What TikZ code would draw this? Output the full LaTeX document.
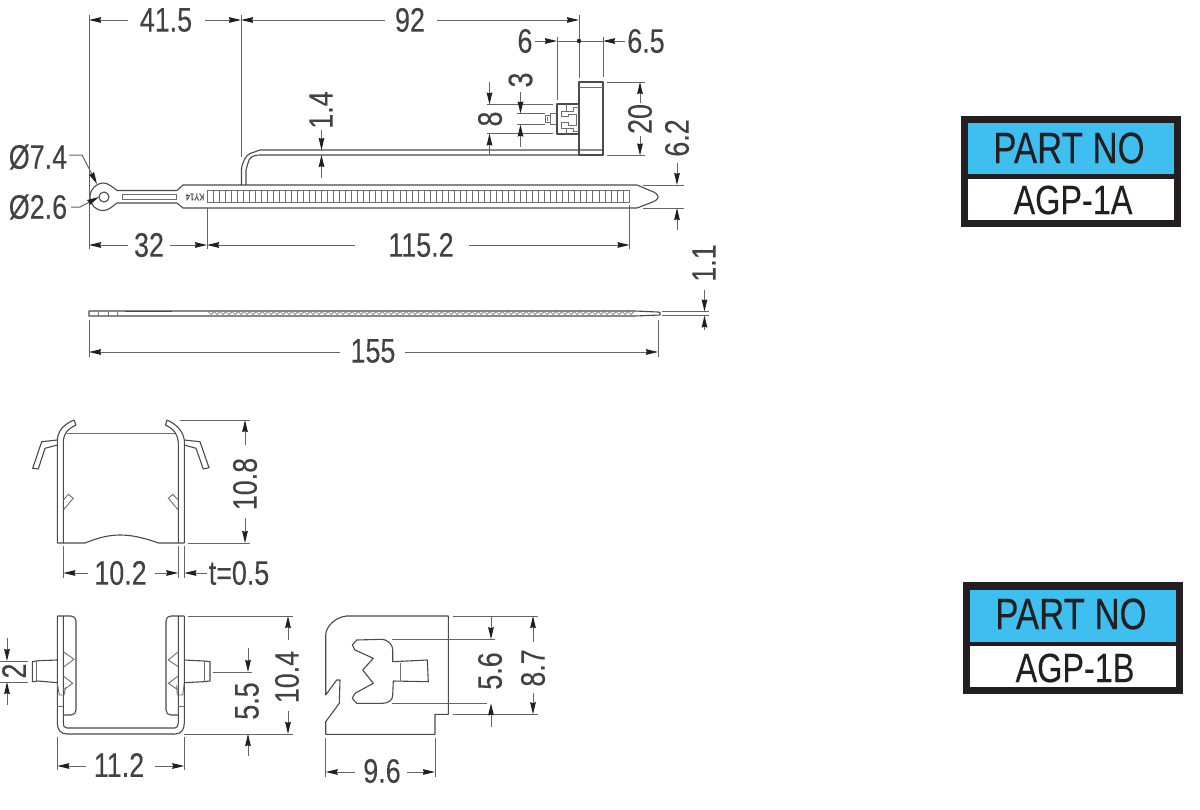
\documentclass[tikz,border=0pt]{standalone}
\usepackage{fontspec}
\setmainfont[FakeStretch=0.79,FakeBold=0.15]{Liberation Sans}
\usetikzlibrary{arrows.meta}
\definecolor{ink}{HTML}{4A4A4A}
\definecolor{partblue}{HTML}{3FBFF0}
\definecolor{partedge}{HTML}{231F20}
\tikzset{
  part/.style={draw=ink,line width=0.55pt,line join=round},
  thin part/.style={draw=ink!80,line width=0.45pt},
  dimline/.style={draw=ink!85,line width=0.5pt},
  arrowline/.style={dimline,-{Stealth[length=6pt,width=2.8pt,inset=0.4pt,color=partedge]}},
  dimtext/.style={inner sep=0pt,font=\fontsize{17}{18}\selectfont,text=partedge!85},
  vdimtext/.style={dimtext,rotate=90},
  parttitle/.style={inner sep=0pt,font=\fontsize{22}{23}\selectfont,text=partedge},
  partcode/.style={inner sep=0pt,font=\fontsize{20.5}{21}\selectfont,text=partedge},
}
\begin{document}
\begin{tikzpicture}[x=0.5pt,y=-0.5pt]
\useasboundingbox (0,0) rectangle (1200,809);
\fill[white] (0,0) rectangle (1200,809);

%%% ---------- tie, plan view
% bent strip
\draw[part] (241.5,185) -- (241.5,168) .. controls (243,162) and (245,156) .. (250,153.5) -- (260,150) -- (603,150) -- (603,155) -- (260,155) .. controls (252,155) and (249,158) .. (248,163) -- (246,170) -- (246,185);
% tab
\draw[part] (579,82) rectangle (603,155);
\draw[thin part] (579,87) -- (603,87);
% connector
\draw[part] (557,104) rectangle (579,134);
\draw[thin part] (579,107.5) -- (573,107.5) -- (573,111) -- (561,111) -- (561,116) -- (568,116) -- (568,114) -- (576,114) -- (576,125) -- (568,125) -- (568,122.5) -- (561,122.5) -- (561,128) -- (573,128) -- (573,131) -- (579,131);
\draw[thin part] (566,104) -- (566,111) (566,128) -- (566,134);
\draw[thin part] (557,113) -- (550,113) -- (550,115.5) -- (545,115.5) -- (545,122) -- (550,122) -- (550,124) -- (557,124);
\draw[thin part] (550,115.5) -- (550,122) (547.5,117) -- (547.5,120.5);
% tie outline
\draw[part] (117,190.5) -- (177,190.5) -- (183,185) -- (637,185) -- (650,190.5) .. controls (656,192.5) and (658,195) .. (658,197) .. controls (658,199) and (656,201) .. (650,203) -- (637,208) -- (183,208) -- (177,203) -- (117,203) .. controls (113,206) and (109,210) .. (104,210.5) .. controls (96,211) and (90,205) .. (90,197) .. controls (90,189) and (96,183) .. (104,183) .. controls (109,183.5) and (113,187.5) .. (117,190.5);
\draw[part] (104,197) circle[radius=5];
\draw[thin part] (122,194) rectangle (176.5,199.5);
% teeth
\draw[thin part] (207,190.5) rectangle (629.5,202.5);
\foreach \i in {1,...,70} \draw[thin part] ({207+6.03*\i},190.5) -- ({207+6.03*\i},202.5);
\node[inner sep=0pt,rotate=180,font=\fontsize{4.8}{5}\selectfont,text=ink] (ky) at (195,197) {KY14};

%%% ---------- tie, side view
\draw[part] (89,311) -- (635,311) -- (658,312) -- (660,312.5) -- (660,315) -- (635,316) -- (89,316) -- cycle;
\foreach \x in {98,108,117} \draw[thin part] (\x,311) -- (\x,316);
\draw[draw=ink,line width=0.8pt] (125,311.3) -- (172,311.3);
\foreach \i in {0,...,70} \draw[ink!80,line width=0.35pt] ({208+6*\i},311.5) -- ({211+6*\i},314.5) -- ({214+6*\i},311.5);

%%% ---------- dimensions, plan view
\draw[dimline] (89,15) -- (89,249);
\draw[dimline] (241,15) -- (241,157);
\draw[dimline] (579,15) -- (579,78);
\draw[arrowline] (128,20) -- (89,20);
\draw[arrowline] (205,20) -- (241,20);
\node[dimtext] (d415) at (166,20) {41.5};
\draw[arrowline] (385,20) -- (241,20);
\draw[arrowline] (437,20) -- (579,20);
\node[dimtext] (d92) at (410,20) {92};
% 6 / 6.5
\draw[dimline] (557,37) -- (557,100);
\draw[dimline] (603,37) -- (603,77);
\draw[dimline] (557,41) -- (603,41);
\fill[partedge] (579,41) circle[radius=2.2];
\draw[arrowline] (535,41) -- (557,41);
\draw[arrowline] (625,41) -- (603,41);
\node[dimtext] (d6) at (525,41) {6};
\node[dimtext] (d65) at (646,41) {6.5};
% 20
\draw[dimline] (607,82) -- (645,82);
\draw[dimline] (607,155.5) -- (645,155.5);
\draw[arrowline] (640,103) -- (640,82);
\draw[arrowline] (640,136) -- (640,155.5);
\node[vdimtext] (d20) at (640,119) {20};
% 6.2
\draw[dimline] (643,185) -- (684,185);
\draw[dimline] (643,208) -- (684,208);
\draw[arrowline] (677,163) -- (677,185);
\draw[arrowline] (677,230) -- (677,208);
\node[vdimtext] (d62) at (677,138) {6.2};
% 8
\draw[dimline] (487,104.5) -- (553,104.5);
\draw[dimline] (487,133.5) -- (553,133.5);
\draw[arrowline] (489.5,82) -- (489.5,104.5);
\draw[arrowline] (489.5,155) -- (489.5,133.5);
\node[vdimtext] (d8) at (490,119) {8};
% 3
\draw[dimline] (517,113.5) -- (545,113.5);
\draw[dimline] (517,124.5) -- (545,124.5);
\draw[arrowline] (520.5,92) -- (520.5,113.5);
\draw[arrowline] (520.5,147) -- (520.5,124.5);
\node[vdimtext] (d3) at (520.5,80) {3};
% 1.4
\draw[arrowline] (321.5,130) -- (321.5,150);
\draw[arrowline] (321.5,178) -- (321.5,155);
\node[vdimtext] (d14) at (321,110) {1.4};
% diameters
\node[dimtext] (d74) at (38,157) {Ø7.4};
\node[dimtext] (d26) at (38,207) {Ø2.6};
\draw[arrowline] (69,155) -- (82,155) -- (97,184);
\draw[arrowline] (71,207) -- (80,207) -- (99,197);
% 32 / 115.2
\draw[dimline] (207,208) -- (207,249);
\draw[dimline] (629.5,205) -- (629.5,249);
\draw[arrowline] (128,245) -- (89,245);
\draw[arrowline] (170,245) -- (207,245);
\node[dimtext] (d32) at (149,245) {32};
\draw[arrowline] (355,245) -- (207,245);
\draw[arrowline] (469,245) -- (629.5,245);
\node[dimtext] (d1152) at (421,245) {115.2};
% 155
\draw[dimline] (89,320) -- (89,357);
\draw[dimline] (658,320) -- (658,357);
\draw[arrowline] (340,352) -- (89,352);
\draw[arrowline] (405,352) -- (658,352);
\node[dimtext] (d155) at (373,351) {155};
% 1.1
\draw[dimline] (662,311.5) -- (709,311.5);
\draw[dimline] (662,315.5) -- (709,315.5);
\draw[arrowline] (704.5,290) -- (704.5,311.5);
\draw[arrowline] (704.5,330) -- (704.5,315.5);
\node[vdimtext] (d11) at (704,263) {1.1};

%%% ---------- clip, front view
\draw[part] (57.3,543) -- (57.3,440) .. controls (58,432) and (62,425) .. (74,420) -- (76,425) .. controls (68,429) and (64,432) .. (63.3,442) -- (63.3,543);
\draw[part] (184.3,543) -- (184.3,440) .. controls (183,432) and (178,425) .. (167,420) -- (165.5,425) .. controls (173,429) and (177,432) .. (178.3,442) -- (178.3,543);
\draw[thin part] (66.7,433) -- (175,433);
\draw[part] (57.3,440) -- (41.7,441.7) -- (32.7,468.3) -- (38.3,469) -- (45,448.3) -- (57.3,445);
\draw[part] (184.3,440) -- (200,441.7) -- (209,467.7) -- (203.3,469) -- (196,448.3) -- (184.3,445);
\draw[thin part] (63.3,500) -- (68.3,494.3) -- (73.3,498.3) -- (63.3,510);
\draw[thin part] (178.3,500) -- (172.7,494.3) -- (168.3,498.3) -- (178.3,510);
\draw[part] (57.3,543) -- (85,543) .. controls (100,537) and (110,535) .. (120,535) .. controls (130,535) and (142,537) .. (158.3,543) -- (184.3,543);
% dims
\draw[dimline] (180,420) -- (250,420);
\draw[dimline] (188,543) -- (250,543);
\draw[arrowline] (245,445) -- (245,420);
\draw[arrowline] (245,518) -- (245,543);
\node[vdimtext] (d108) at (245,484) {10.8};
\draw[dimline] (63.3,546) -- (63.3,578);
\draw[dimline] (178.3,546) -- (178.3,578);
\draw[dimline] (184.3,546) -- (184.3,578);
\draw[arrowline] (88,573) -- (63.3,573);
\draw[arrowline] (155,573) -- (178.3,573);
\draw[arrowline] (207,573) -- (184.3,573);
\node[dimtext] (d102) at (120.5,573) {10.2};
\node[dimtext] (dt) at (239,573) {t=0.5};

%%% ---------- clip, top view
\draw[part] (57.3,616) -- (57.3,723) .. controls (57.3,730) and (61,734) .. (67,734) -- (175,734) .. controls (181,734) and (184.3,730) .. (184.3,723) -- (184.3,616);
\draw[part] (63.3,616) -- (63.3,723) .. controls (63.3,726) and (64,728) .. (67,728) -- (175,728) .. controls (177,728) and (178.3,726) .. (178.3,723) -- (178.3,616);
\draw[part] (57.3,616) -- (71,616) .. controls (74,616) and (76,618) .. (76,621) -- (76,710) .. controls (76,713) and (74,715) .. (71,715) -- (63.3,715);
\draw[part] (184.3,616) -- (171,616) .. controls (168,616) and (166,618) .. (166,621) -- (166,710) .. controls (166,713) and (168,715) .. (171,715) -- (178.3,715);
\draw[thin part] (57.3,706.7) -- (63.3,706.7) (178.3,706.7) -- (184.3,706.7);
\draw[thin part] (63.3,651.7) -- (74,659.3) -- (63.3,667.3) (63.3,676) -- (72.7,683.3) -- (63.3,690);
\draw[thin part] (178.3,651.7) -- (168.3,660) -- (178.3,666.7) (178.3,676) -- (168.3,683.3) -- (178.3,690);
\draw[thin part] (57.3,683.3) -- (59.3,695) -- (64,695) -- (65.7,687.3);
\draw[thin part] (184.3,683.3) -- (182.7,695) -- (177.3,695) -- (176.7,685);
\draw[part] (57.3,660) -- (38.3,660.7) -- (32.3,661.7) -- (32.3,681.7) -- (38.3,681) -- (57.3,682.7);
\draw[thin part] (36.7,661) -- (36.7,681);
\draw[part] (184.3,660) -- (204,661) -- (210,661.7) -- (210,681) -- (203.3,681.7) -- (184.3,682.7);
\draw[thin part] (204,661) -- (204,681.7);
% dims
\draw[dimline] (0,661) -- (28,661);
\draw[dimline] (0,682) -- (28,682);
\draw[arrowline] (7,638) -- (7,661);
\draw[arrowline] (7,705) -- (7,682);
\node[vdimtext] (d2) at (14,671) {2};
\draw[dimline] (188,616) -- (293,616);
\draw[dimline] (184.3,734) -- (293,734);
\draw[arrowline] (288,640) -- (288,616);
\draw[arrowline] (288,711) -- (288,734);
\node[vdimtext] (d104) at (287,677) {10.4};
\draw[dimline] (213,672) -- (252,672);
\draw[arrowline] (248,648) -- (248,672);
\draw[arrowline] (248,756) -- (248,734);
\node[vdimtext] (d55) at (247,701) {5.5};
\draw[dimline] (57.3,737) -- (57.3,770);
\draw[dimline] (184.3,737) -- (184.3,770);
\draw[arrowline] (86,766) -- (57.3,766);
\draw[arrowline] (155,766) -- (184.3,766);
\node[dimtext] (d112) at (119,765) {11.2};

%%% ---------- clip, side profile
\draw[part] (448.3,616) -- (346.7,616) .. controls (335,617) and (325.7,627) .. (325.7,635) -- (325.7,695) -- (336.7,680) -- (340,680) -- (339.3,703.3) -- (325.7,721.7) -- (325.7,734.3) -- (435,734.3) -- (435,714.3) -- (448.3,714.3) -- cycle;
\draw[part] (356.7,640) -- (381.7,639.3) .. controls (389,640) and (392.7,645) .. (392.7,650) -- (392.7,661.7) -- (427.3,660) -- (428.3,681.7) -- (393.3,681) -- (392.7,695) .. controls (392.7,700) and (389,703.3) .. (381.7,703.3) -- (356.7,703.3) -- (352.3,698.3) -- (355,693.3) -- (373.3,683.3) -- (362.7,670) -- (373.3,658.3) -- (355,650) -- (352.3,645) -- cycle;
\draw[thin part] (400,663) -- (400,681);
\draw[dimline] (392,639.3) -- (495,639.3);
\draw[dimline] (392,703.3) -- (487,703.3);
\draw[dimline] (453,616) -- (538,616);
\draw[dimline] (453,714.3) -- (538,714.3);
\draw[arrowline] (491,616) -- (491,639.3);
\draw[arrowline] (491,727) -- (491,703.3);
\node[vdimtext] (d56) at (490,671) {5.6};
\draw[arrowline] (533,642) -- (533,616);
\draw[arrowline] (533,693) -- (533,714.3);
\node[vdimtext] (d87) at (533,668) {8.7};
\draw[dimline] (325.7,738) -- (325.7,777);
\draw[dimline] (435,738) -- (435,777);
\draw[arrowline] (355,772) -- (325.7,772);
\draw[arrowline] (407,772) -- (435,772);
\node[dimtext] (d96) at (382,771) {9.6};

%%% ---------- part number boxes
\fill[partedge] (961,116) rectangle (1181,227);
\fill[partblue] (968,123) rectangle (1174,174);
\fill[white] (968,179) rectangle (1174,220);
\node[parttitle] (p1) at (1069,148) {PART NO};
\node[partcode] (c1) at (1073,200) {AGP-1A};
\fill[partedge] (963,582) rectangle (1183,694);
\fill[partblue] (970,590) rectangle (1176,642);
\fill[white] (970,646) rectangle (1176,687);
\node[parttitle] (p2) at (1071,614) {PART NO};
\node[partcode] (c2) at (1075,668) {AGP-1B};
\end{tikzpicture}
\end{document}
